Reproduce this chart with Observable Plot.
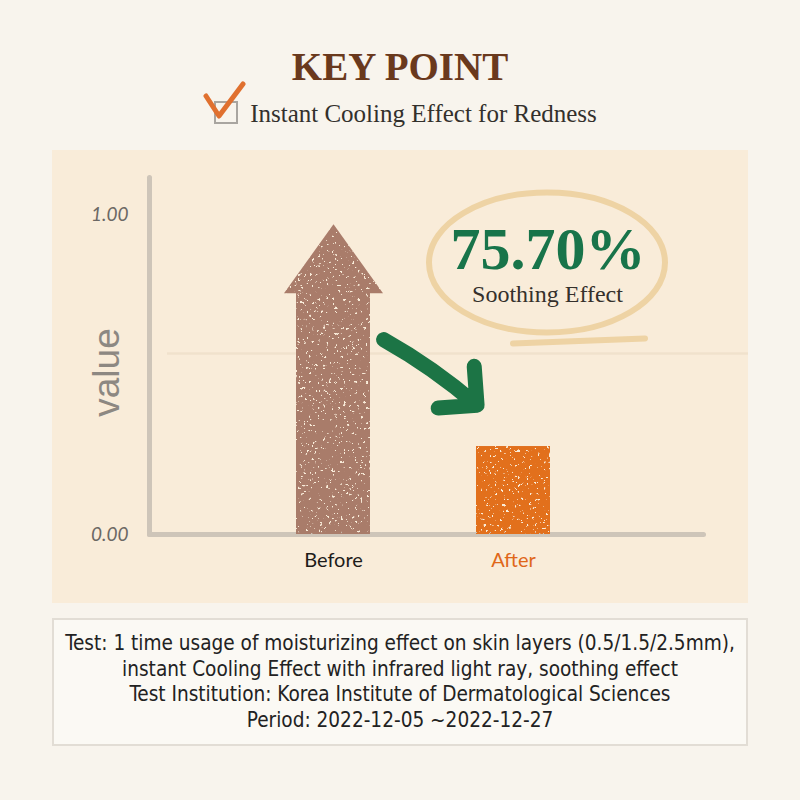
<!DOCTYPE html>
<html>
<head>
<meta charset="utf-8">
<script src="https://cdn.jsdelivr.net/npm/d3@7"></script>
<script src="https://cdn.jsdelivr.net/npm/@observablehq/plot@0.6"></script>
<style>
  html, body { margin: 0; padding: 0; }
  body { width: 800px; height: 800px; background: #f8f4ed; position: relative; overflow: hidden; }
  #title { position: absolute; left: 0; top: 47px; width: 800px; text-align: center;
           font-family: "Liberation Serif", "DejaVu Serif", serif; font-weight: bold; font-size: 39px;
           line-height: 1; color: #6a391d; }
  #subtitle { position: absolute; left: 0; top: 80px; width: 800px; display: flex; justify-content: center; align-items: flex-start; }
  #subtitle svg { display: block; }
  #subtitle span { font-family: "Liberation Serif", "DejaVu Serif", serif; font-size: 25px; line-height: 1;
                   color: #33302c; margin-top: 21px; margin-left: 3px; }
  #panel { position: absolute; left: 52px; top: 150px; width: 696px; height: 453px; background: #f9ecd9; }
  #panel svg { display: block; }
  #caption { position: absolute; left: 52px; top: 618px; width: 692px; height: 124px; border: 2px solid #e2ddd5;
             background: #fbf9f4; display: flex; flex-direction: column; justify-content: center; align-items: center;
             font-family: "Liberation Sans Narrow", "DejaVu Sans Condensed", "Roboto", sans-serif; font-size: 20.6px;
             line-height: 25.5px; color: #222; }
</style>
</head>
<body>
<svg width="0" height="0" style="position:absolute">
  <defs>
    <filter id="grain" x="0" y="0" width="100%" height="100%">
      <feTurbulence type="fractalNoise" baseFrequency="0.35" numOctaves="3" seed="7" result="n"/>
      <feColorMatrix in="n" type="matrix" values="0 0 0 0 0  0 0 0 0 0  0 0 0 0 0  -18 0 0 0 13" result="m"/>
      <feComposite in="SourceGraphic" in2="m" operator="in"/>
    </filter>
  </defs>
</svg>
<div id="title"></div>
<div id="subtitle">
  <svg width="44" height="46" viewBox="0 0 44 46">
    <rect x="12" y="22" width="22" height="21" fill="none" stroke="#a9a5a0" stroke-width="2"/>
    <path d="M3 16 L16 36 L40 4" fill="none" stroke="#e0702f" stroke-width="5" stroke-linecap="round" stroke-linejoin="round"/>
  </svg>
  <span id="subtitleText"></span>
</div>
<div id="panel"></div>
<div id="caption"></div>
<script>
// ---- data ----
const titleText = "KEY POINT";
const subtitleText = "Instant Cooling Effect for Redness";
const categories = ["Before", "After"];
const values = [0.97, 0.275];
const yDomain = [0, 1.116];
const yTicks = [0, 1];
const yTickLabels = ["0.00", "1.00"];
const yLabel = ["value"];
const gridValues = [0.566];
const arrowFromTo = [0.6875, 0.297];
const headline = ["75.70%"];
const headlineSub = ["Soothing Effect"];
const captionLines = [
  "Test: 1 time usage of moisturizing effect on skin layers (0.5/1.5/2.5mm),",
  "instant Cooling Effect with infrared light ray, soothing effect",
  "Test Institution: Korea Institute of Dermatological Sciences",
  "Period: 2022-12-05 ~2022-12-27"
];

// ---- styles ----
const barColors = {Before: "#a97b6a", After: "#e2701d"};
const labelColors = {Before: "#1e1c1a", After: "#e0671a"};

document.getElementById("title").textContent = titleText;
document.getElementById("subtitleText").textContent = subtitleText;
const cap = document.getElementById("caption");
captionLines.forEach(t => { const d = document.createElement("div"); d.textContent = t; cap.appendChild(d); });

const rows = categories.map((c, i) => ({category: c, value: values[i]}));
const arrowRows = [{x1: categories[0], x2: categories[1], y1: arrowFromTo[0], y2: arrowFromTo[1]}];

const headPx = 69;
const arrowHead = {
  draw(ctx) { ctx.moveTo(0, 0); ctx.lineTo(49.5, headPx); ctx.lineTo(-49.5, headPx); ctx.closePath(); }
};
const ring = {
  draw(ctx) {
    const rx = 118, ry = 70, k = 0.5523;
    ctx.moveTo(rx, 0);
    ctx.bezierCurveTo(rx, ry * k, rx * k, ry, 0, ry);
    ctx.bezierCurveTo(-rx * k, ry, -rx, ry * k, -rx, 0);
    ctx.bezierCurveTo(-rx, -ry * k, -rx * k, -ry, 0, -ry);
    ctx.bezierCurveTo(rx * k, -ry, rx, -ry * k, rx, 0);
    ctx.moveTo(-34, 81);
    ctx.lineTo(98, 76);
  }
};

const plot = Plot.plot({
  width: 696, height: 453,
  marginLeft: 97, marginRight: 45, marginTop: 27, marginBottom: 69,
  style: {background: "transparent", overflow: "visible", fontFamily: "Lato, sans-serif"},
  x: {domain: categories, paddingInner: 0.59, paddingOuter: 0.83, align: 0.489, axis: null},
  y: {domain: yDomain, axis: null},
  color: {type: "identity"},
  marks: [
    Plot.ruleY(gridValues, {stroke: "#f0e2cc", strokeWidth: 2.5, insetLeft: 18, insetRight: -45}),
    Plot.frame({anchor: "left", stroke: "#cec5b9", strokeWidth: 5, strokeLinecap: "round"}),
    Plot.frame({anchor: "bottom", stroke: "#cec5b9", strokeWidth: 5, strokeLinecap: "round"}),
    Plot.axisY({ticks: yTicks, tickFormat: d => yTickLabels[yTicks.indexOf(d)], tickSize: 0, tickPadding: 21,
                label: null, fontSize: 19, fontStyle: "italic", fill: "#6c6864", letterSpacing: "1px"}),
    Plot.text(yLabel, {x: null, y: null, frameAnchor: "left", dx: -42, dy: 16.5, rotate: -90,
                       textAnchor: "middle", lineAnchor: "middle",
                       fontSize: 37, fill: "#8d8882", fontFamily: "Liberation Sans, sans-serif"}),
    Plot.barY(rows, {filter: d => d.category === categories[0], x: "category", y: "value",
                     fill: d => barColors[d.category], insetTop: headPx, ariaDescription: "grain"}),
    Plot.dot(rows, {filter: d => d.category === categories[0], x: "category", y: "value",
                    symbol: arrowHead, fill: d => barColors[d.category], stroke: "none", ariaDescription: "grain"}),
    Plot.barY(rows, {filter: d => d.category !== categories[0], x: "category", y: "value",
                     fill: d => barColors[d.category], ariaDescription: "grain"}),
    Plot.arrow(arrowRows, {x1: "x1", y1: "y1", x2: "x2", y2: "y2", bend: 11, insetStart: 56, insetEnd: 50,
                           stroke: "#1c7445", strokeWidth: 15, headLength: 3.9, headAngle: 90,
                           strokeLinecap: "round", strokeLinejoin: "round"}),
    Plot.text(rows, {x: "category", text: "category", frameAnchor: "bottom", dy: 32, fontSize: 20,
                     fill: d => labelColors[d.category], letterSpacing: "1px"}),
    Plot.dot([0], {x: null, y: null, frameAnchor: "top-right", dx: -156.5, dy: 85, symbol: ring,
                   stroke: "#eed3a4", strokeWidth: 6, fill: "none", strokeLinecap: "round"}),
    Plot.text(headline, {x: null, y: null, frameAnchor: "top-right", dx: -155.5, dy: 91, textAnchor: "middle",
                         lineAnchor: "bottom", fontSize: 60, fontWeight: "bold",
                         fontFamily: "Liberation Serif, serif", fill: "#18744a"}),
    Plot.text(headlineSub, {x: null, y: null, frameAnchor: "top-right", dx: -156, dy: 124, textAnchor: "middle",
                            lineAnchor: "bottom", fontSize: 24, fontFamily: "Liberation Serif, serif", fill: "#35302b"})
  ]
});
plot.querySelectorAll('g[aria-description="grain"]').forEach(g => g.setAttribute("filter", "url(#grain)"));
document.getElementById("panel").appendChild(plot);
</script>
</body>
</html>
